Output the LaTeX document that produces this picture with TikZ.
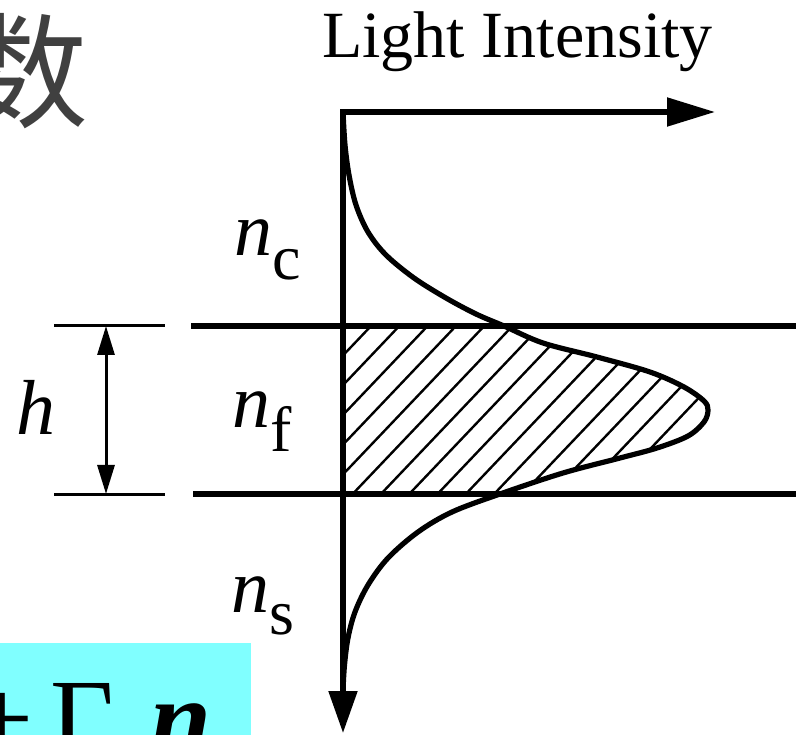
\documentclass[tikz,border=0pt]{standalone}
\usepackage{fontspec}
\setmainfont{Liberation Serif}
\newfontfamily\cjkfont{Noto Sans CJK SC}
\usetikzlibrary{arrows.meta}
\definecolor{boxcyan}{HTML}{80FFFF}
\definecolor{titlegray}{HTML}{404040}
\begin{document}
\begin{tikzpicture}[x=1pt,y=-1pt,
  thickline/.style={line width=5.2pt},
  hatchline/.style={line width=2.4pt},
  dimline/.style={line width=3pt},
  lab/.style={inner sep=0pt, anchor=base west},
]
\useasboundingbox (0,0) rectangle (804,735);
\begin{scope}
\clip (0,0) rectangle (804,735);

% title fragment
\node[inner sep=0pt, anchor=base east, text=titlegray] (title) at (89,119) {\cjkfont\fontsize{125}{125}\selectfont 数};

% cyan box with formula fragment
\fill[boxcyan] (0,643) rectangle (251,760);
\node[inner sep=0pt, anchor=base east] (plus) at (34,755) {\fontsize{110}{110}\selectfont +};
\node[lab] (gam) at (50,755) {\fontsize{110}{110}\selectfont Γ};
\node[lab] (nb) at (150,755) {\fontsize{110}{110}\selectfont\bfseries\itshape n};

% coordinates
\coordinate (O) at (343,112);
\coordinate (Xend) at (715,112);
\coordinate (Yend) at (343,733);
\coordinate (TL) at (191,326);
\coordinate (TR) at (796,326);
\coordinate (BL) at (193,494);
\coordinate (BR) at (796,494);
\coordinate (DT1) at (54,326);
\coordinate (DT2) at (165,326);
\coordinate (DB1) at (54,494);
\coordinate (DB2) at (165,494);
\coordinate (HA) at (106,326);
\coordinate (HB) at (106,494);

% hatching of the film region
\begin{scope}
\clip (343,326) -- plot[smooth,tension=0.55] coordinates {(504,326) (543,343) (597,357) (650,372) (684,387) (704,401) (708,410) (704,422) (688,436) (657,448) (620,458) (563,473) (500,494)} -- (343,494) -- cycle;
\foreach \k in {-2,...,18} {
  \draw[hatchline] ({371+28.3*\k-250},{326+250*1.051}) -- ({371+28.3*\k+250},{326-250*1.051});
}
\end{scope}

% boundary lines
\draw[thickline] (TL) -- (TR);
\draw[thickline] (BL) -- (BR);

% thickness dimension
\draw[dimline] (DT1) -- (DT2);
\draw[dimline] (DB1) -- (DB2);
\draw[dimline, {Triangle[length=29pt,width=17pt]}-{Triangle[length=29pt,width=17pt]}] (HA) -- (HB);

% axes
\draw[thickline, {Triangle[length=48pt,width=28pt]}-{Triangle[length=42pt,width=28pt]}] (Xend) -- (O) -- (Yend);

% intensity profile
\draw[thickline, line join=round] plot[smooth,tension=0.55] coordinates {(343,112) (345,145) (349,175) (356,205) (368,232) (386,255) (414,278) (446,298) (476,314) (504,326) (543,343) (597,357) (650,372) (684,387) (704,401) (708,410) (704,422) (688,436) (657,448) (620,458) (563,473) (500,494) (452,512) (418,532) (388,558) (368,585) (355,612) (348,638) (344.5,665) (343,690)};

% labels
\node[lab] (lbl) at (322,58) {\fontsize{66}{66}\selectfont Light Intensity};
\node[lab] (nc) at (234,256) {\fontsize{76}{76}\selectfont\itshape n\raisebox{-24pt}{\fontsize{64}{64}\selectfont\upshape c}};
\node[lab] (nf) at (232,428) {\fontsize{76}{76}\selectfont\itshape n\raisebox{-24pt}{\fontsize{64}{64}\selectfont\upshape f}};
\node[lab] (ns) at (231,612) {\fontsize{76}{76}\selectfont\itshape n\raisebox{-22pt}{\fontsize{64}{64}\selectfont\upshape s}};
\node[lab] (hlab) at (16,435) {\fontsize{78}{78}\selectfont\itshape h};
\end{scope}
\end{tikzpicture}
\end{document}
